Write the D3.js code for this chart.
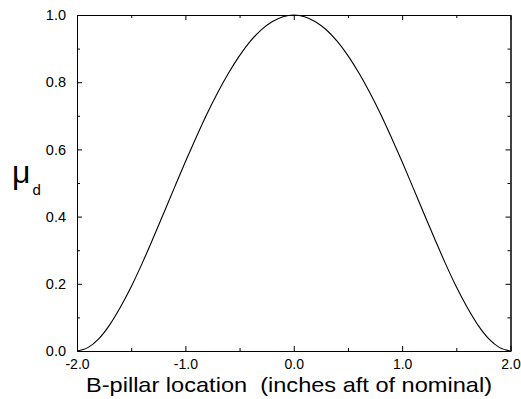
<!DOCTYPE html>
<html>
<head>
<meta charset="utf-8">
<script src="https://cdn.jsdelivr.net/npm/d3@7"></script>
<style>
  body { margin: 0; background: #fff; }
  svg { display: block; }
  text { font-family: Arial, "Liberation Sans", Helvetica, sans-serif; fill: #000; }
</style>
</head>
<body>
<div id="chart"></div>
<script>
// curve, every 0.1 inch
const xValues = [-2.0, -1.9, -1.8, -1.7, -1.6, -1.5, -1.4, -1.3, -1.2, -1.1, -1.0,
  -0.9, -0.8, -0.7, -0.6, -0.5, -0.4, -0.3, -0.2, -0.1, 0.0,
  0.1, 0.2, 0.3, 0.4, 0.5, 0.6, 0.7, 0.8, 0.9, 1.0,
  1.1, 1.2, 1.3, 1.4, 1.5, 1.6, 1.7, 1.8, 1.9, 2.0]
const muValues = [0.000, 0.010, 0.036, 0.077, 0.130, 0.191, 0.260, 0.334, 0.410, 0.487, 0.563,
  0.636, 0.706, 0.770, 0.828, 0.879, 0.922, 0.956, 0.980, 0.995, 1.000,
  0.995, 0.980, 0.956, 0.922, 0.879, 0.828, 0.770, 0.706, 0.636, 0.563,
  0.487, 0.410, 0.334, 0.260, 0.191, 0.130, 0.077, 0.036, 0.010, 0.000]

const xMajorTicks = [-2.0, -1.0, 0.0, 1.0, 2.0]
const xMinorTicks = [-1.5, -0.5, 0.5, 1.5]
const yMajorTicks = [0.0, 0.2, 0.4, 0.6, 0.8, 1.0]
const yMinorTicks = [0.1, 0.3, 0.5, 0.7, 0.9]

const xLabel = 'B-pillar location  (inches aft of nominal)'

const dimensions = {
  width: 521,
  height: 399,
  margin: { top: 15, right: 10.5, bottom: 48, left: 77 }
}
const innerW = dimensions.width - dimensions.margin.left - dimensions.margin.right
const innerH = dimensions.height - dimensions.margin.top - dimensions.margin.bottom

const svg = d3.select('#chart')
  .append('svg')
  .attr('width', dimensions.width)
  .attr('height', dimensions.height)

const bounds = svg.append('g')
  .attr('transform', `translate(${dimensions.margin.left}, ${dimensions.margin.top})`)

const xScale = d3.scaleLinear().domain([-2, 2]).range([0, innerW])
const yScale = d3.scaleLinear().domain([0, 1]).range([innerH, 0])

// major + minor ticks, all pointing inward
function styleAxis (g) {
  g.selectAll('path.domain').attr('stroke', '#000').attr('stroke-width', 1)
  g.selectAll('.tick line').attr('stroke', '#000')
}
const fmt = d => d3.format('.1f')(d).replace('−', '-')

bounds.append('g')
  .attr('transform', `translate(0, ${innerH})`)
  .call(d3.axisBottom(xScale).tickValues(xMajorTicks).tickSize(-5).tickSizeOuter(0)
    .tickPadding(8.5).tickFormat(fmt))
  .call(styleAxis)
  .call(g => g.selectAll('text').style('font-size', '14px'))
bounds.append('g')
  .attr('transform', `translate(0, ${innerH})`)
  .call(d3.axisBottom(xScale).tickValues(xMinorTicks).tickSize(-3).tickSizeOuter(0).tickFormat(''))
  .call(styleAxis)

bounds.append('g')
  .call(d3.axisTop(xScale).tickValues(xMajorTicks).tickSize(-5).tickSizeOuter(0).tickFormat(''))
  .call(styleAxis)
bounds.append('g')
  .call(d3.axisTop(xScale).tickValues(xMinorTicks).tickSize(-3).tickSizeOuter(0).tickFormat(''))
  .call(styleAxis)

bounds.append('g')
  .call(d3.axisLeft(yScale).tickValues(yMajorTicks).tickSize(-5).tickSizeOuter(0)
    .tickPadding(11).tickFormat(fmt))
  .call(styleAxis)
  .call(g => g.selectAll('text').style('font-size', '14.5px'))
bounds.append('g')
  .call(d3.axisLeft(yScale).tickValues(yMinorTicks).tickSize(-3).tickSizeOuter(0).tickFormat(''))
  .call(styleAxis)

bounds.append('g')
  .attr('transform', `translate(${innerW}, 0)`)
  .call(d3.axisRight(yScale).tickValues(yMajorTicks).tickSize(-5).tickSizeOuter(0).tickFormat(''))
  .call(styleAxis)
bounds.append('g')
  .attr('transform', `translate(${innerW}, 0)`)
  .call(d3.axisRight(yScale).tickValues(yMinorTicks).tickSize(-3).tickSizeOuter(0).tickFormat(''))
  .call(styleAxis)

// the curve
const line = d3.line()
  .x(d => xScale(d[0]))
  .y(d => yScale(d[1]))
  .curve(d3.curveMonotoneX)

bounds.append('path')
  .datum(d3.zip(xValues, muValues))
  .attr('fill', 'none')
  .attr('stroke', '#000')
  .attr('stroke-width', 1.1)
  .attr('d', line)

// axis titles
svg.append('text')
  .attr('x', 86)
  .attr('y', 391.5)
  .attr('textLength', 406)
  .attr('lengthAdjust', 'spacingAndGlyphs')
  .style('font-size', '21px')
  .style('white-space', 'pre')
  .text(xLabel)

const yTitle = svg.append('text')
  .attr('x', 12)
  .attr('y', 183)
yTitle.append('tspan')
  .style('font-size', '32px')
  .text('μ')
yTitle.append('tspan')
  .attr('dy', 12)
  .attr('dx', 2)
  .style('font-size', '15px')
  .text('d')
</script>
</body>
</html>
